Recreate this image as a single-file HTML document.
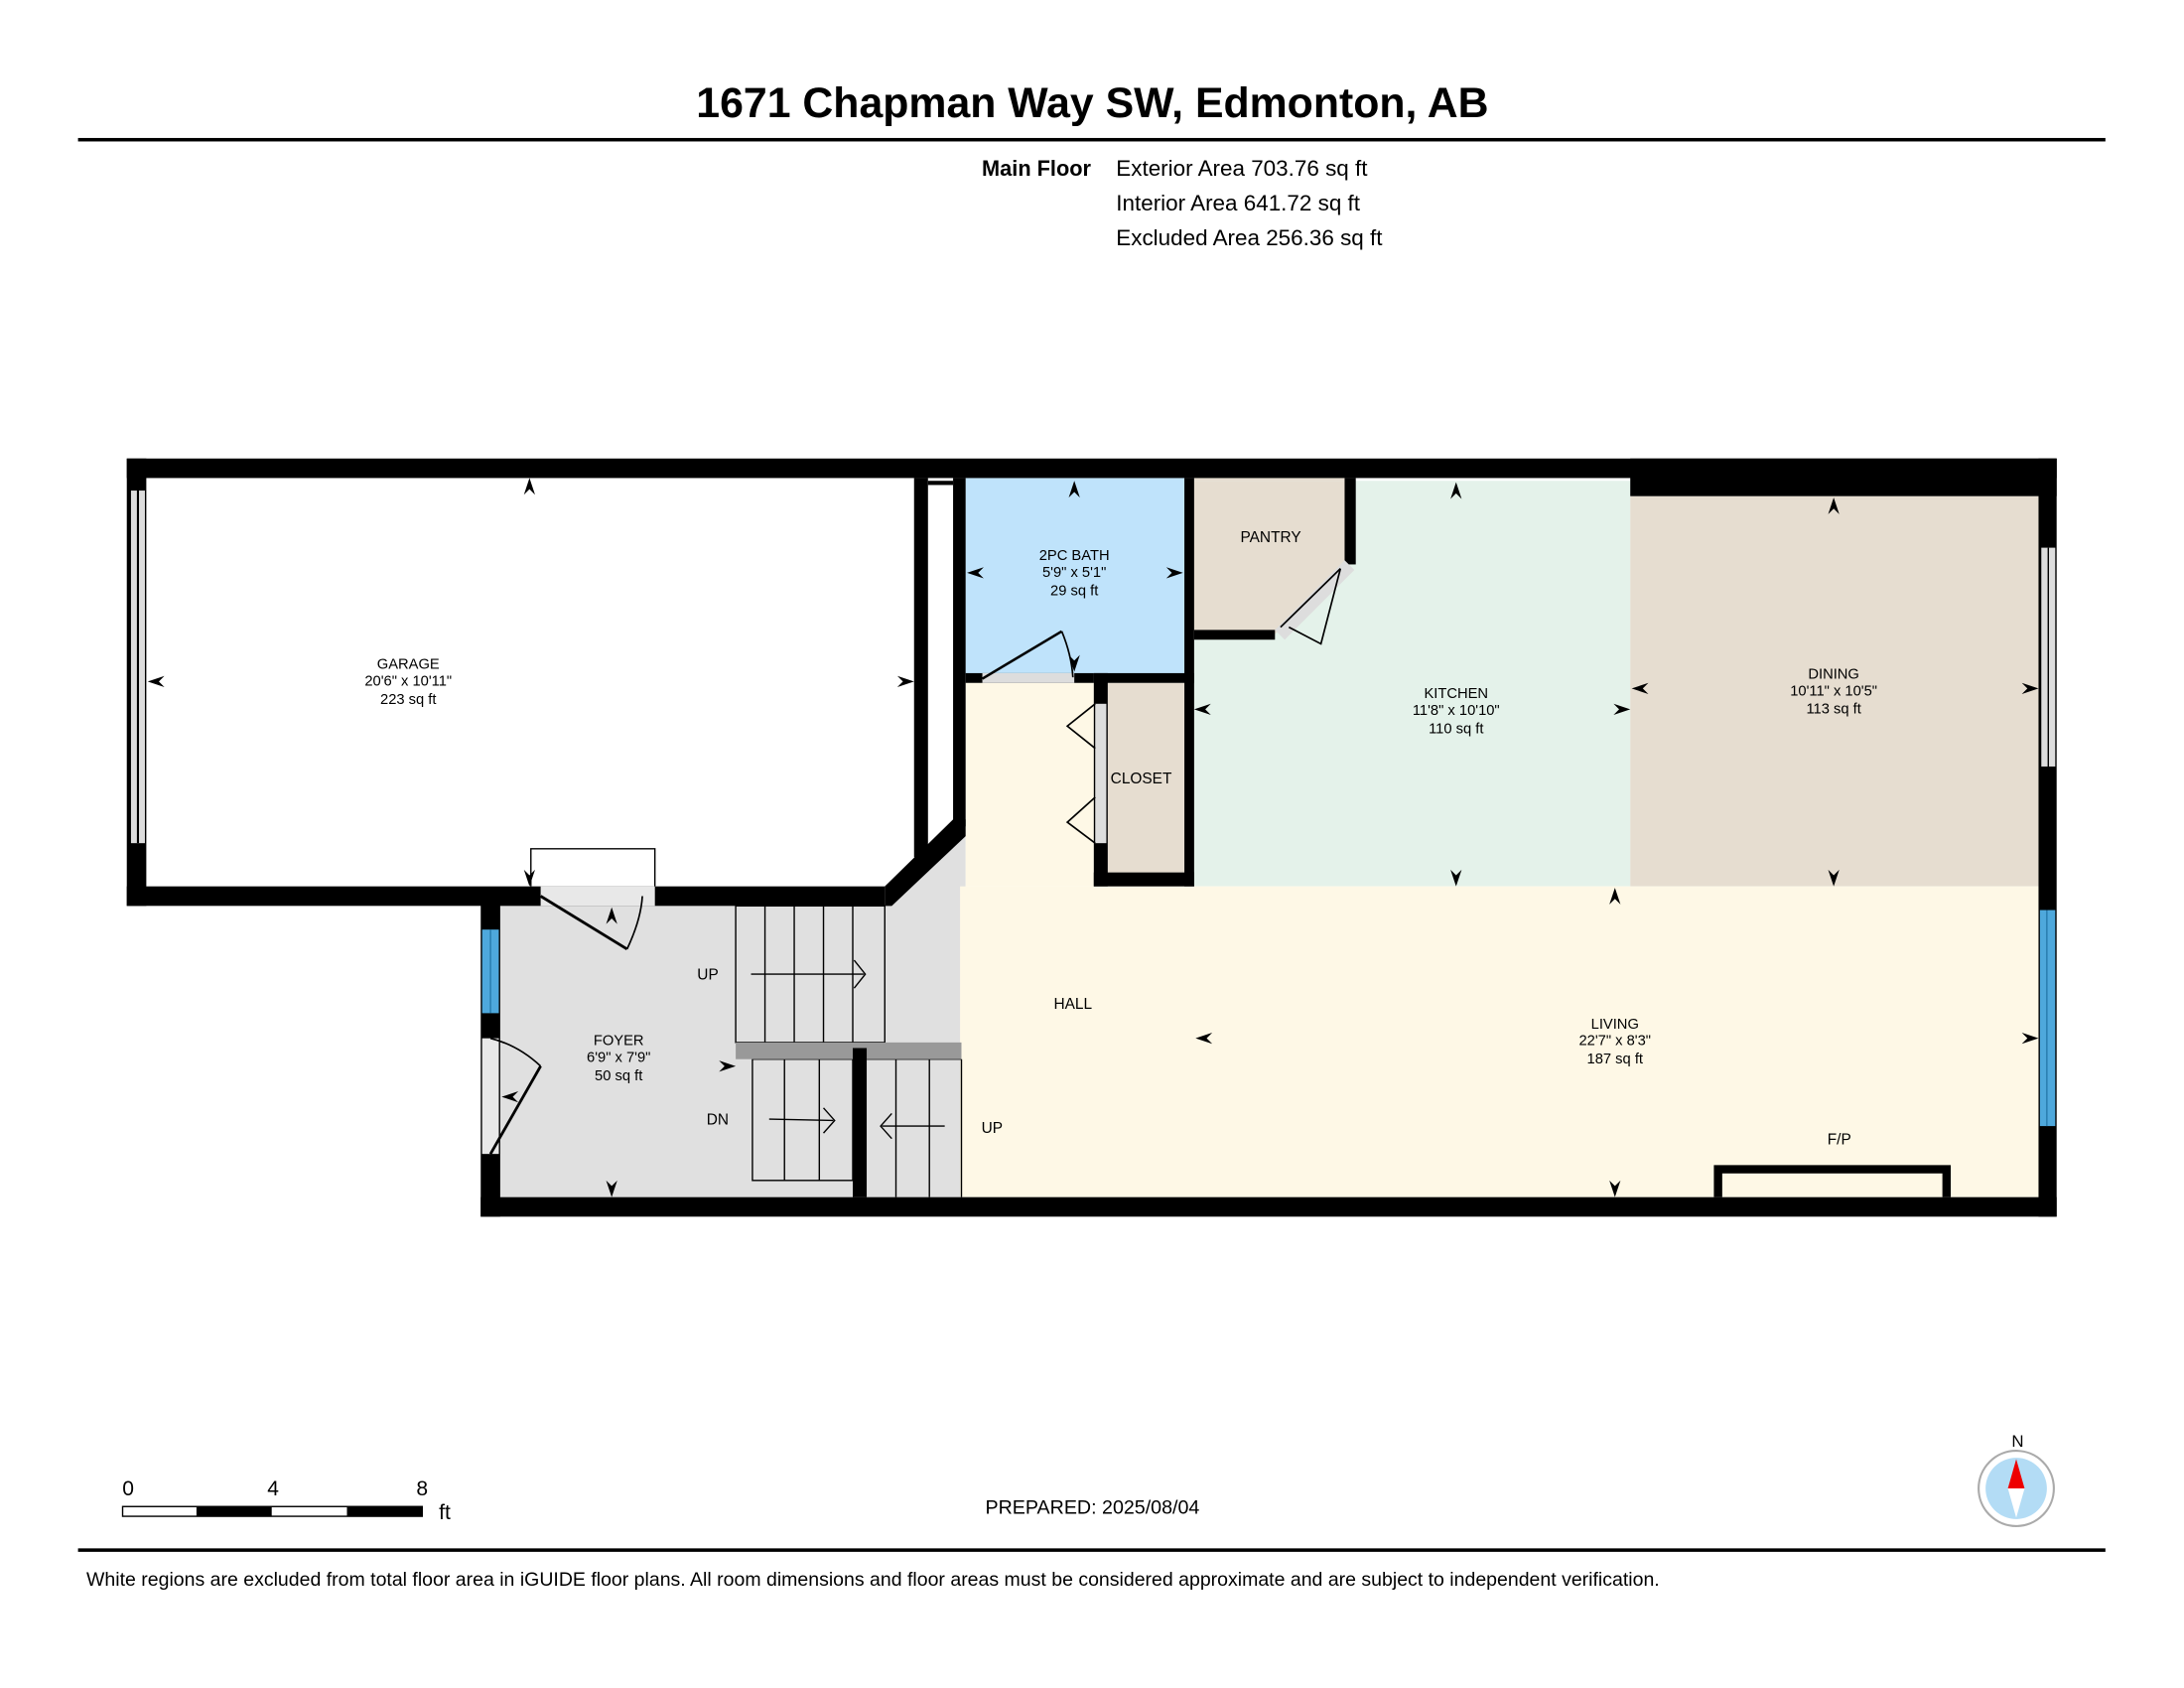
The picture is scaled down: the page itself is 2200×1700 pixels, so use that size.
<!DOCTYPE html>
<html><head><meta charset="utf-8"><style>
html,body{margin:0;padding:0;background:#fff}
svg{display:block}
text{font-family:"Liberation Sans",Arial,sans-serif;fill:#000}
</style></head><body>
<svg width="2200" height="1700" viewBox="0 0 1567.4 1211.2" preserveAspectRatio="none" xmlns="http://www.w3.org/2000/svg">
<defs><path id="ah" d="M0,0 L-4,12 L0,8 L4,12Z" fill="#000"/></defs>
<rect width="1600" height="1250" fill="#fff"/>
<text x="784" y="84" font-size="30.5" font-weight="bold" text-anchor="middle">1671 Chapman Way SW, Edmonton, AB</text>
<rect x="56" y="99" width="1455" height="2.5" fill="#000"/>
<text x="783" y="126" font-size="15.5" font-weight="bold" text-anchor="end">Main Floor</text>
<text x="801" y="126" font-size="16">Exterior Area 703.76 sq ft</text>
<text x="801" y="151" font-size="16">Interior Area 641.72 sq ft</text>
<text x="801" y="176" font-size="16">Excluded Area 256.36 sq ft</text>

<rect x="359" y="649" width="330" height="210" fill="#e0e0e0"/>
<polygon points="635,649 693,595 693,859 635,859" fill="#e0e0e0"/>
<rect x="693" y="343" width="157" height="141" fill="#bfe3fb"/>
<rect x="857" y="343" width="110" height="110" fill="#e6ddd0"/>
<rect x="857" y="345" width="313" height="291" fill="#e4f2ea"/>
<polygon points="857,345 966,345 966,405 915,455 857,455" fill="#e6ddd0"/>
<rect x="1170" y="356" width="293" height="280" fill="#e6ddd0"/>
<rect x="795" y="490" width="55" height="136" fill="#e6ddd0"/>
<rect x="689" y="636" width="774" height="223" fill="#fef8e6"/>
<rect x="693" y="490" width="92" height="146" fill="#fef8e6"/>

<g stroke="#000" stroke-width="1" fill="none">
<rect x="528" y="650" width="107" height="98"/>
<line x1="549" y1="650" x2="549" y2="748"/><line x1="570" y1="650" x2="570" y2="748"/><line x1="591" y1="650" x2="591" y2="748"/><line x1="612" y1="650" x2="612" y2="748"/>
<rect x="540" y="760" width="72" height="87"/>
<line x1="563" y1="760" x2="563" y2="847"/><line x1="588" y1="760" x2="588" y2="847"/>
<line x1="622" y1="760" x2="690" y2="760"/><line x1="690" y1="760" x2="690" y2="859"/>
<line x1="643" y1="760" x2="643" y2="859"/><line x1="667" y1="760" x2="667" y2="859"/>
<line x1="539" y1="699" x2="620" y2="699"/><polyline points="613,689 621,699 613,709"/>
<line x1="552" y1="803" x2="598" y2="804"/><polyline points="591,795 599,804 591,813"/>
<line x1="678" y1="808" x2="633" y2="808"/><polyline points="640,799 632,808 640,817"/>
</g>
<rect x="528" y="748" width="162" height="12" fill="#999"/>
<rect x="612" y="752" width="10" height="107" fill="#000"/>

<g fill="#000">
<rect x="91" y="329" width="1385" height="14"/>
<rect x="1170" y="329" width="306" height="27"/>
<rect x="1463" y="329" width="13" height="544"/>
<rect x="345" y="859" width="1131" height="14"/>
<rect x="345" y="649" width="14" height="224"/>
<rect x="91" y="329" width="14" height="321"/>
<rect x="91" y="636" width="544" height="14"/>
<polygon points="635,636 684,588 693,588 693,600 640,650 635,650"/>
<rect x="656" y="343" width="10" height="272"/>
<rect x="684" y="343" width="9" height="250"/>
<rect x="666" y="345" width="18" height="3"/>
<rect x="850" y="343" width="7" height="293"/>
<rect x="693" y="483" width="92" height="7"/>
<rect x="785" y="483" width="72" height="7"/>
<rect x="785" y="483" width="10" height="153"/>
<rect x="785" y="626" width="72" height="10"/>
<rect x="857" y="452" width="58" height="7"/>
<rect x="965" y="343" width="8" height="62"/>
</g>
<rect x="94" y="352" width="10" height="253" fill="#ddd"/><line x1="99" y1="352" x2="99" y2="605" stroke="#000" stroke-width="1.5"/>
<rect x="1465" y="393" width="10" height="157" fill="#ddd"/><line x1="1470" y1="393" x2="1470" y2="550" stroke="#000" stroke-width="1"/>
<rect x="1464" y="653" width="11" height="155" fill="#4ea8dc"/><line x1="1469" y1="653" x2="1469" y2="808" stroke="#1d6fa0" stroke-width="0.8"/>
<rect x="346" y="667" width="12" height="60" fill="#4ea8dc"/><line x1="352" y1="667" x2="352" y2="727" stroke="#1d6fa0" stroke-width="0.8"/>
<rect x="346" y="745" width="12" height="83" fill="#e8e8e8"/>
<rect x="388" y="636" width="82" height="14" fill="#e8e8e8"/>
<rect x="705" y="483" width="66" height="7" fill="#ddd"/>
<rect x="786" y="505" width="8" height="100" fill="#ddd"/>
<polygon points="915,452 965,402 972,409 922,459" fill="#ddd"/>
<g stroke="#000" stroke-width="1.2" fill="none">
<polyline points="381,636 381,609 470,609 470,636" stroke-width="1"/>
<line x1="388" y1="643" x2="450" y2="681" stroke-width="2"/><path d="M450,681 Q460,660 461,643"/>
<line x1="705" y1="487" x2="762" y2="453" stroke-width="1.8"/><path d="M762,453 Q769,470 770,486"/>
<line x1="352" y1="828" x2="388" y2="765" stroke-width="2"/><path d="M388,765 Q372,750 352,745"/>
<line x1="919" y1="450" x2="962" y2="408"/><polyline points="962,408 948,462 925,450"/>
<polyline points="786,505 766,521 786,537"/><polyline points="786,572 766,590 786,605"/>
</g>
<path d="M1233,859 V839 H1397 V859" fill="none" stroke="#000" stroke-width="6"/>

<use href="#ah" transform="translate(380,343)"/>
<use href="#ah" transform="translate(380,636) rotate(180)"/>
<use href="#ah" transform="translate(106,489) rotate(-90)"/>
<use href="#ah" transform="translate(656,489) rotate(90)"/>
<use href="#ah" transform="translate(771,345)"/>
<use href="#ah" transform="translate(771,482) rotate(180)"/>
<use href="#ah" transform="translate(694,411) rotate(-90)"/>
<use href="#ah" transform="translate(849,411) rotate(90)"/>
<use href="#ah" transform="translate(1045,346)"/>
<use href="#ah" transform="translate(1045,636) rotate(180)"/>
<use href="#ah" transform="translate(857,509) rotate(-90)"/>
<use href="#ah" transform="translate(1170,509) rotate(90)"/>
<use href="#ah" transform="translate(1316,357)"/>
<use href="#ah" transform="translate(1316,636) rotate(180)"/>
<use href="#ah" transform="translate(1171,494) rotate(-90)"/>
<use href="#ah" transform="translate(1463,494) rotate(90)"/>
<use href="#ah" transform="translate(1159,637)"/>
<use href="#ah" transform="translate(1159,859) rotate(180)"/>
<use href="#ah" transform="translate(858,745) rotate(-90)"/>
<use href="#ah" transform="translate(1463,745) rotate(90)"/>
<use href="#ah" transform="translate(439,651)"/>
<use href="#ah" transform="translate(439,859) rotate(180)"/>
<use href="#ah" transform="translate(360,787) rotate(-90)"/>
<use href="#ah" transform="translate(528,765) rotate(90)"/>

<g font-size="10.5" text-anchor="middle">
<text x="293" y="480">GARAGE</text><text x="293" y="492">20'6" x 10'11"</text><text x="293" y="505">223 sq ft</text>
<text x="771" y="402">2PC BATH</text><text x="771" y="414">5'9" x 5'1"</text><text x="771" y="427">29 sq ft</text>
<text x="912" y="389" font-size="11">PANTRY</text>
<text x="819" y="562" font-size="11">CLOSET</text>
<text x="1045" y="501">KITCHEN</text><text x="1045" y="513">11'8" x 10'10"</text><text x="1045" y="526">110 sq ft</text>
<text x="1316" y="487">DINING</text><text x="1316" y="499">10'11" x 10'5"</text><text x="1316" y="512">113 sq ft</text>
<text x="1159" y="738">LIVING</text><text x="1159" y="750">22'7" x 8'3"</text><text x="1159" y="763">187 sq ft</text>
<text x="444" y="750">FOYER</text><text x="444" y="762">6'9" x 7'9"</text><text x="444" y="775">50 sq ft</text>
<text x="770" y="724" font-size="11">HALL</text>
<text x="508" y="703" font-size="11">UP</text>
<text x="515" y="807" font-size="11">DN</text>
<text x="712" y="813" font-size="11">UP</text>
<text x="1320" y="821" font-size="11">F/P</text>
</g>

<text x="92" y="1073" font-size="15" text-anchor="middle">0</text>
<text x="196" y="1073" font-size="15" text-anchor="middle">4</text>
<text x="303" y="1073" font-size="15" text-anchor="middle">8</text>
<rect x="88" y="1081" width="215" height="7" fill="#fff" stroke="#000" stroke-width="1"/>
<rect x="141" y="1081" width="54" height="7" fill="#000"/>
<rect x="249" y="1081" width="54" height="7" fill="#000"/>
<text x="315" y="1090" font-size="15">ft</text>
<text x="784" y="1086" font-size="14" text-anchor="middle">PREPARED: 2025/08/04</text>
<text x="1448" y="1038" font-size="12" text-anchor="middle">N</text>
<circle cx="1447" cy="1068" r="27" fill="#fff" stroke="#aaa" stroke-width="1.5"/>
<circle cx="1447" cy="1068" r="22" fill="#b3dcf5"/>
<polygon points="1447,1047 1441,1068 1453,1068" fill="#e00"/>
<polygon points="1447,1089 1441,1068 1453,1068" fill="#fff"/>
<rect x="56" y="1111" width="1455" height="2.5" fill="#000"/>
<text x="62" y="1138" font-size="13.9">White regions are excluded from total floor area in iGUIDE floor plans. All room dimensions and floor areas must be considered approximate and are subject to independent verification.</text>
</svg>
</body></html>
